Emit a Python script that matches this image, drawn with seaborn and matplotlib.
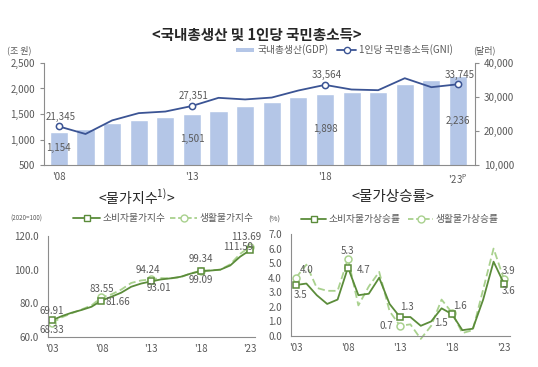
import numpy as np
import pandas as pd
import matplotlib
matplotlib.use("Agg")
import matplotlib.pyplot as plt
import seaborn as sns
from matplotlib.lines import Line2D
from matplotlib.patches import Patch

# ---- data ----
gdp_years = list(range(2008, 2024))
gdp = [1154, 1206, 1323, 1389, 1441, 1501, 1563, 1658, 1741, 1836, 1898, 1924, 1941, 2080, 2162, 2236]
gni = [21345, 19122, 23118, 25256, 25724, 27351, 29758, 29284, 29839, 31911, 33564, 32204, 32004, 35523, 32886, 33745]
gdp_ticklabels = ["'08", "'13", "'18", "'23$^{\\mathregular{P}}$"]

price_years = list(range(2003, 2024))
cpi = [69.91, 72.43, 74.44, 76.07, 77.98, 81.66, 83.89, 86.35, 89.85, 91.75, 93.01,
       94.20, 94.87, 95.78, 97.65, 99.09, 99.47, 100.00, 102.50, 107.72, 111.59]
living = [68.33, 71.7, 74.1, 76.4, 78.8, 83.55, 85.3, 88.2, 92.1, 93.6, 94.24,
          95.0, 94.8, 95.5, 97.8, 99.34, 99.6, 100.0, 103.2, 109.4, 113.69]

cpi_rate = [3.5, 3.6, 2.8, 2.2, 2.5, 4.7, 2.8, 2.9, 4.0, 2.2, 1.3,
            1.3, 0.7, 1.0, 1.9, 1.5, 0.4, 0.5, 2.5, 5.1, 3.6]
living_rate = [4.0, 4.9, 3.3, 3.1, 3.1, 5.3, 2.1, 3.4, 4.4, 1.7, 0.7,
               0.8, -0.2, 0.7, 2.5, 1.6, 0.2, 0.4, 3.2, 6.0, 3.9]
price_ticklabels = ["'03", "'08", "'13", "'18", "'23"]

BAR = "#b4c6e7"
NAVY = "#3b5494"
DKGREEN = "#5b8c3a"
LTGREEN = "#a9d18e"
GRAY = "#595959"
SPINE = "#8c8c8c"

sns.set_theme(style="white")
plt.rcParams['font.family'] = ['Noto Sans CJK KR', 'DejaVu Sans']
plt.rcParams['axes.unicode_minus'] = False

fig = plt.figure(figsize=(5.38, 3.67), dpi=100)
W, H = 538, 367


def ax_at(l, t, r, b):
    return fig.add_axes([l / W, 1 - b / H, (r - l) / W, (b - t) / H])


def style(ax, sides):
    for s in ["top", "right", "left", "bottom"]:
        ax.spines[s].set_visible(s in sides)
        ax.spines[s].set_color(SPINE)
        ax.spines[s].set_linewidth(0.8)
    ax.tick_params(colors=SPINE, labelcolor=GRAY, labelsize=7, length=3, width=0.8)


# ---- top chart: GDP bars + GNI line ----
ax = ax_at(44, 63, 475, 165)
idx = np.arange(len(gdp_years))
df_top = pd.DataFrame({"i": idx, "gdp": gdp, "gni": gni})
sns.barplot(data=df_top, x="i", y="gdp", color=BAR, saturation=1, width=0.68, ax=ax)
ax.set_xlim(-0.56, 15.64)
ax.set_ylim(500, 2500)
ax.set_yticks([500, 1000, 1500, 2000, 2500])
ax.set_yticklabels([f"{v:,}" for v in [500, 1000, 1500, 2000, 2500]])
ax.set_xticks([0, 5, 10, 15])
ax.set_xticklabels(gdp_ticklabels)
ax.set_xlabel("")
ax.set_ylabel("")
style(ax, ["left", "bottom"])
ax.tick_params(axis="x", direction="inout", length=3)

ax2 = ax.twinx()
sns.lineplot(data=df_top, x="i", y="gni", color=NAVY, linewidth=1.3, ax=ax2,
             marker="o", markersize=4.5, markerfacecolor="white", markeredgecolor=NAVY,
             markeredgewidth=1.1, markevery=[0, 5, 10, 15])
ax2.set_ylim(10000, 40000)
ax2.set_yticks([10000, 20000, 30000, 40000])
ax2.set_yticklabels([f"{v:,}" for v in [10000, 20000, 30000, 40000]])
ax2.set_ylabel("")
ax2.set_xlim(-0.56, 15.64)
style(ax2, ["right"])

for i in [0, 5, 10, 15]:
    ax2.annotate(f"{gni[i]:,}", xy=(i, gni[i]), xytext=(1, 7), textcoords="offset points",
                 ha="center", va="center", fontsize=7, color=GRAY)
    ax.text(i, (500 + gdp[i]) / 2, f"{gdp[i]:,}", ha="center", va="center", fontsize=7, color=GRAY)

fig.text(257 / W, 1 - 35 / H, "<국내총생산 및 1인당 국민총소득>", ha="center", va="center",
         fontsize=10.5, fontweight="bold", color="#262626")
fig.text(7 / W, 1 - 50 / H, "(조 원)", ha="left", va="center", fontsize=6.5, color=GRAY)
fig.text(473 / W, 1 - 50 / H, "(달러)", ha="left", va="center", fontsize=6.5, color=GRAY)
top_handles = [Patch(facecolor=BAR, edgecolor="none"),
               Line2D([], [], color=NAVY, lw=1.3, marker="o", markersize=4.5,
                      markerfacecolor="white", markeredgecolor=NAVY)]
fig.legend(top_handles, ["국내총생산(GDP)", "1인당 국민총소득(GNI)"], loc="center left",
           bbox_to_anchor=(236 / W, 1 - 50 / H), ncol=2, frameon=False, fontsize=7,
           labelcolor=GRAY, handlelength=1.9, handleheight=0.35, handletextpad=0.3,
           columnspacing=0.9, borderpad=0, borderaxespad=0)

# ---- bottom left: price indices ----
axl = ax_at(48, 236, 255, 337)
df_idx = pd.DataFrame({"year": price_years, "cpi": cpi, "living": living})
marks = [0, 5, 10, 15, 20]
sns.lineplot(data=df_idx, x="year", y="living", ax=axl, color=LTGREEN, linewidth=1.3,
             linestyle=(0, (4, 2)), marker="o", markersize=5, markerfacecolor="white",
             markeredgecolor=LTGREEN, markeredgewidth=1.1, markevery=marks, clip_on=False)
sns.lineplot(data=df_idx, x="year", y="cpi", ax=axl, color=DKGREEN, linewidth=1.3,
             marker="s", markersize=5, markerfacecolor="white", markeredgecolor=DKGREEN,
             markeredgewidth=1.1, markevery=marks, clip_on=False)
axl.set_xlim(2002.6, 2023.5)
axl.set_ylim(60, 120)
axl.set_yticks([60, 80, 100, 120])
axl.set_yticklabels([f"{v:.1f}" for v in [60, 80, 100, 120]])
axl.set_xticks([2003, 2008, 2013, 2018, 2023])
axl.set_xticklabels(price_ticklabels)
axl.set_xlabel("")
axl.set_ylabel("")
style(axl, ["left", "bottom"])
axl.tick_params(axis="x", direction="inout", length=3)

lab_idx = [  # (year, value, text, dx, dy)
    (2003, cpi[0], "69.91", 0, 6.5), (2003, living[0], "68.33", 0, -5),
    (2008, living[5], "83.55", 0, 6), (2008, cpi[5], "81.66", 12, -1),
    (2013, living[10], "94.24", -2, 7), (2013, cpi[10], "93.01", 6, -4.5),
    (2018, living[15], "99.34", 0, 8.5), (2018, cpi[15], "99.09", 0, -6.5),
    (2023, living[20], "113.69", -3, 7), (2023, cpi[20], "111.59", -8.5, 2),
]
for x, y, t, dx, dy in lab_idx:
    axl.annotate(t, xy=(x, y), xytext=(dx, dy), textcoords="offset points",
                 ha="center", va="center", fontsize=7, color=GRAY)

fig.text(137 / W, 1 - 197 / H, "<물가지수$^{\\mathregular{1)}}$>", ha="center", va="center",
         fontsize=10, color="#262626")
fig.text(10 / W, 1 - 219 / H, "(2020=100)", ha="left", va="center", fontsize=4.5, color=GRAY)
hl = [Line2D([], [], color=DKGREEN, lw=1.3, marker="s", markersize=5, markerfacecolor="white",
             markeredgecolor=DKGREEN),
      Line2D([], [], color=LTGREEN, lw=1.3, ls=(0, (3, 1.5)), marker="o", markersize=5,
             markerfacecolor="white", markeredgecolor=LTGREEN)]
fig.legend(hl, ["소비자물가지수", "생활물가지수"], loc="center left",
           bbox_to_anchor=(73 / W, 1 - 218 / H), ncol=2, frameon=False, fontsize=7,
           labelcolor=GRAY, handlelength=2.8, handletextpad=0.2, columnspacing=0.5,
           borderpad=0, borderaxespad=0)

# ---- bottom right: inflation rates ----
axr = ax_at(291, 234, 510, 336)
df_rate = pd.DataFrame({"year": price_years, "cpi": cpi_rate, "living": living_rate})
sns.lineplot(data=df_rate, x="year", y="living", ax=axr, color=LTGREEN, linewidth=1.3,
             linestyle=(0, (4, 2)), marker="o", markersize=5, markerfacecolor="white",
             markeredgecolor=LTGREEN, markeredgewidth=1.1, markevery=marks, clip_on=False)
sns.lineplot(data=df_rate, x="year", y="cpi", ax=axr, color=DKGREEN, linewidth=1.3,
             marker="s", markersize=5, markerfacecolor="white", markeredgecolor=DKGREEN,
             markeredgewidth=1.1, markevery=marks, clip_on=False)
axr.set_xlim(2002.52, 2023.58)
axr.set_ylim(0, 7)
axr.set_yticks(range(0, 8))
axr.set_yticklabels([f"{v:.1f}" for v in range(0, 8)])
axr.set_xticks([2003, 2008, 2013, 2018, 2023])
axr.set_xticklabels(price_ticklabels)
axr.set_xlabel("")
axr.set_ylabel("")
style(axr, ["left", "bottom"])
axr.tick_params(axis="x", direction="inout", length=3)

lab_rate = [
    (2003, living_rate[0], "4.0", 8, 5.5), (2003, cpi_rate[0], "3.5", 3.5, -7),
    (2008, living_rate[5], "5.3", 0, 5.5), (2008, cpi_rate[5], "4.7", 11, -1.5),
    (2013, cpi_rate[10], "1.3", 5, 7), (2013, living_rate[10], "0.7", -10, 0),
    (2018, living_rate[15], "1.6", 6, 5), (2018, cpi_rate[15], "1.5", -8, -6.5),
    (2023, living_rate[20], "3.9", 3.5, 6), (2023, cpi_rate[20], "3.6", 3.5, -5.5),
]
for x, y, t, dx, dy in lab_rate:
    axr.annotate(t, xy=(x, y), xytext=(dx, dy), textcoords="offset points",
                 ha="center", va="center", fontsize=7, color=GRAY)

fig.text(393 / W, 1 - 197 / H, "<물가상승률>", ha="center", va="center",
         fontsize=10.5, color="#262626")
fig.text(268 / W, 1 - 220 / H, "(%)", ha="left", va="center", fontsize=5.5, color=GRAY)
fig.legend(hl, ["소비자물가상승률", "생활물가상승률"], loc="center left",
           bbox_to_anchor=(301 / W, 1 - 219 / H), ncol=2, frameon=False, fontsize=7,
           labelcolor=GRAY, handlelength=2.6, handletextpad=0.2, columnspacing=0.8,
           borderpad=0, borderaxespad=0)

fig.savefig("out.png", dpi=100)
